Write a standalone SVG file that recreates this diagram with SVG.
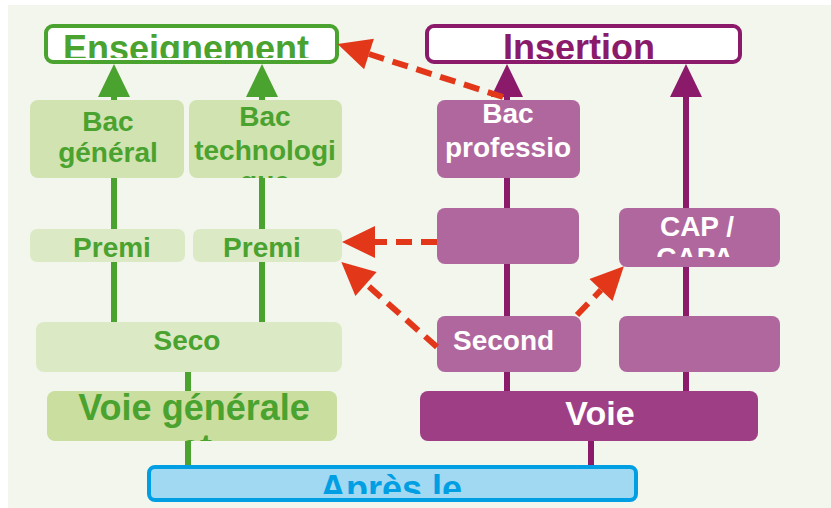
<svg xmlns="http://www.w3.org/2000/svg" width="831" height="508" viewBox="0 0 831 508">
<style>
text{font-family:"Liberation Sans",Arial,sans-serif;font-weight:bold;text-anchor:middle}
.g{fill:#4aa22f}.w{fill:#ffffff}.p{fill:#8b1a6b}.b{fill:#009fe3}
.t36{font-size:36px}.t28{font-size:28px}
.gl{stroke:#4aa22f;stroke-width:6;fill:none}
.pl{stroke:#8b1a6b;stroke-width:6;fill:none}
.rd{stroke:#e3371a;stroke-width:6;stroke-dasharray:16 9;fill:none;marker-end:url(#ra)}
.bg1{fill:#d1e3b1}.bg2{fill:#dce9c5}.bg3{fill:#c9de9f}
.pb{fill:#b0679e}.pd{fill:#9e3f86}
</style>
<defs>
<marker id="ra" markerUnits="userSpaceOnUse" markerWidth="34" markerHeight="32" refX="0" refY="16" orient="auto" overflow="visible"><path d="M0,0 L33,16 L0,32 Z" fill="#e3371a"/></marker>
<marker id="ga" markerUnits="userSpaceOnUse" markerWidth="34" markerHeight="34" refX="0" refY="16" orient="auto" overflow="visible"><path d="M0,0 L33,16 L0,32 Z" fill="#4aa22f"/></marker>
<marker id="pa" markerUnits="userSpaceOnUse" markerWidth="34" markerHeight="34" refX="0" refY="16" orient="auto" overflow="visible"><path d="M0,0 L33,16 L0,32 Z" fill="#8b1a6b"/></marker>
<clipPath id="cEns"><rect x="44" y="24" width="295" height="34"/></clipPath>
<clipPath id="cIns"><rect x="425" y="24" width="317" height="35"/></clipPath>
<clipPath id="cApr"><rect x="147" y="465" width="491" height="29"/></clipPath>
<clipPath id="cBg"><rect x="30" y="100" width="154" height="78"/></clipPath>
<clipPath id="cBt"><rect x="189" y="100" width="153" height="78"/></clipPath>
<clipPath id="cBp"><rect x="437" y="100" width="143" height="78"/></clipPath>
<clipPath id="cCap"><rect x="619" y="208" width="161" height="49"/></clipPath>
<clipPath id="cVg"><rect x="47" y="391" width="290" height="50"/></clipPath>
</defs>
<rect x="8" y="5" width="823" height="503" fill="#f3f6ec"/>
<g id="connectors">
<line class="gl" x1="114" y1="97" x2="114" y2="322"/>
<line class="gl" x1="262" y1="97" x2="262" y2="322"/>
<line class="gl" x1="188" y1="372" x2="188" y2="465"/>
<line class="pl" x1="507" y1="97" x2="507" y2="391"/>
<line class="pl" x1="686" y1="97" x2="686" y2="391"/>
<line class="pl" x1="591" y1="441" x2="591" y2="465"/>
<path d="M98,97 L114,64 L130,97 Z" fill="#4aa22f"/>
<path d="M246,97 L262,64 L278,97 Z" fill="#4aa22f"/>
<path d="M491,97 L507,64 L523,97 Z" fill="#8b1a6b"/>
<path d="M670,97 L686,64 L702,97 Z" fill="#8b1a6b"/>
</g>
<g id="enseignement">
<rect x="46" y="26" width="291" height="36" rx="7" fill="#ffffff" stroke="#4aa22f" stroke-width="4"/>
<text class="g t36" x="186" y="61" clip-path="url(#cEns)">Enseignement</text>
</g>
<g id="insertion">
<rect x="427" y="26" width="313" height="36" rx="7" fill="#ffffff" stroke="#8b1a6b" stroke-width="4"/>
<text class="p t36" x="579" y="60" clip-path="url(#cIns)">Insertion</text>
</g>
<g id="bac-general">
<rect class="bg1" x="30" y="100" width="154" height="78" rx="8"/>
<g clip-path="url(#cBg)"><text class="g t28" x="108" y="131">Bac</text><text class="g t28" x="108" y="162">général</text></g>
</g>
<g id="bac-techno">
<rect class="bg1" x="189" y="100" width="153" height="78" rx="8"/>
<g clip-path="url(#cBt)"><text class="g t28" x="265" y="126">Bac</text><text class="g t28" x="265" y="160">technologi</text><text class="g t28" x="265" y="191">que</text></g>
</g>
<g id="premiere-g">
<rect class="bg2" x="30" y="229" width="155" height="33" rx="7"/>
<text class="g t28" x="112" y="257">Premi</text>
</g>
<g id="premiere-t">
<rect class="bg2" x="193" y="229" width="149" height="33" rx="7"/>
<text class="g t28" x="262" y="257">Premi</text>
</g>
<g id="seconde-gt">
<rect class="bg2" x="36" y="322" width="306" height="50" rx="8"/>
<text class="g t28" x="187" y="350">Seco</text>
</g>
<g id="voie-gt">
<rect class="bg3" x="47" y="391" width="290" height="50" rx="8"/>
<g clip-path="url(#cVg)"><text class="g t36" x="194" y="420">Voie générale</text><text class="g t36" x="196" y="460">et</text></g>
</g>
<g id="bac-pro">
<rect class="pb" x="437" y="100" width="143" height="78" rx="8"/>
<g clip-path="url(#cBp)"><text class="w t28" x="508" y="123">Bac</text><text class="w t28" x="508" y="157">professio</text></g>
</g>
<g id="premiere-pro">
<rect class="pb" x="437" y="208" width="142" height="56" rx="8"/>
</g>
<g id="cap">
<rect class="pb" x="619" y="208" width="161" height="59" rx="8"/>
<g clip-path="url(#cCap)"><text class="w t28" x="697" y="236">CAP /</text><text class="w t28" x="695" y="267">CAPA</text></g>
</g>
<g id="seconde-pro">
<rect class="pb" x="437" y="316" width="144" height="56" rx="8"/>
<text class="w t28" x="453" y="350" style="text-anchor:start">Second</text>
</g>
<g id="cap-1">
<rect class="pb" x="619" y="316" width="161" height="56" rx="8"/>
</g>
<g id="voie-pro">
<rect class="pd" x="420" y="391" width="338" height="50" rx="8"/>
<text class="w" x="600" y="425" style="font-size:34px">Voie</text>
</g>
<g id="apres">
<rect x="149" y="467" width="487" height="33" rx="6" fill="#a1d9f3" stroke="#009fe3" stroke-width="4"/>
<text class="b t36" x="391" y="501" clip-path="url(#cApr)">Après le</text>
</g>
<g id="red-connectors">
<line class="rd" x1="503" y1="97" x2="369" y2="54"/>
<line class="rd" x1="437" y1="242" x2="375" y2="242"/>
<line class="rd" x1="437" y1="347" x2="366" y2="284"/>
<line class="rd" x1="577" y1="315" x2="601" y2="290"/>
</g>
</svg>
